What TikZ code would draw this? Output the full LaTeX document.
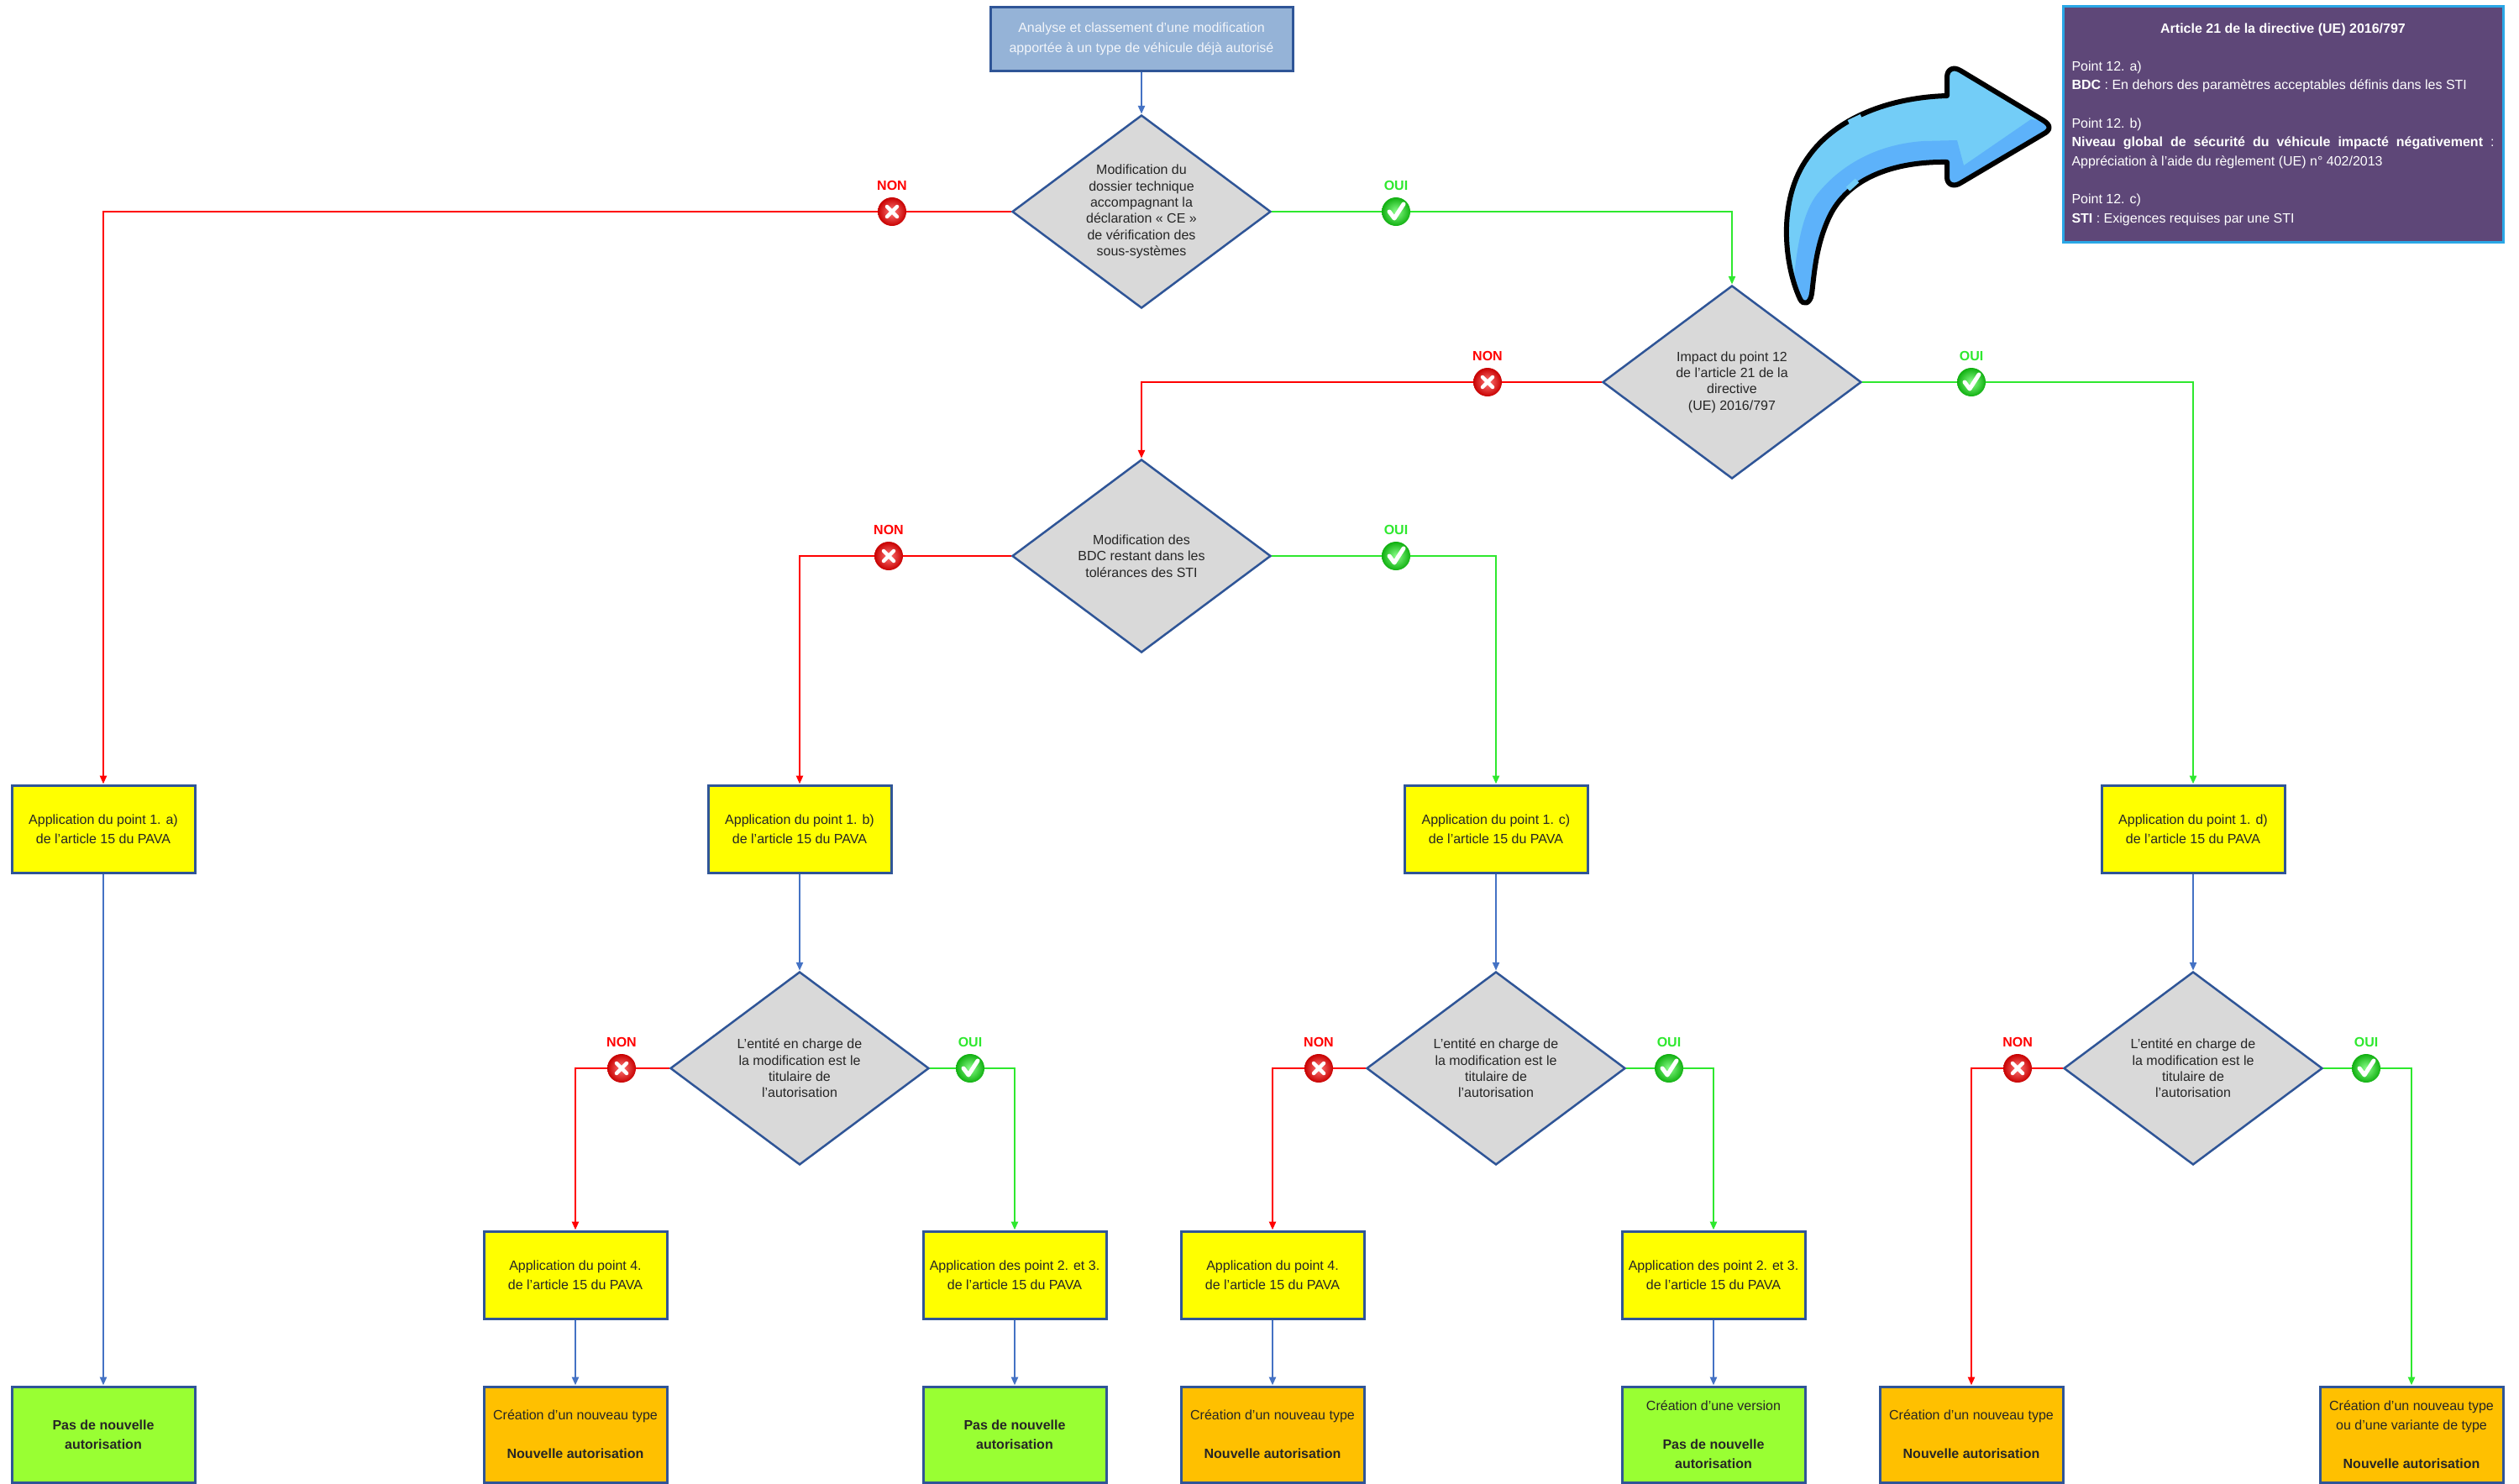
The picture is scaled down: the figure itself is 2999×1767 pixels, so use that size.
\documentclass[tikz,border=0pt]{standalone}
\usepackage{fontspec}
\setmainfont{Liberation Sans}
\usetikzlibrary{shapes.geometric,arrows.meta}

\definecolor{hdrfill}{HTML}{95B3D7}
\definecolor{hdrtext}{HTML}{F2F5FA}
\definecolor{frame}{HTML}{2F5597}
\definecolor{diafill}{HTML}{D9D9D9}
\definecolor{diatext}{HTML}{262626}
\definecolor{yell}{HTML}{FFFF00}
\definecolor{oran}{HTML}{FFC000}
\definecolor{lime}{HTML}{99FF33}
\definecolor{nonred}{HTML}{FF0000}
\definecolor{ouigreen}{HTML}{2EE82E}
\definecolor{flowblue}{HTML}{4472C4}
\definecolor{purp}{HTML}{5E4778}
\definecolor{purpframe}{HTML}{2AA7E6}
\definecolor{arrlight}{HTML}{73CDF7}
\definecolor{arrdark}{HTML}{5DB2FA}
\definecolor{nonhi}{HTML}{FF7A7A}
\definecolor{nondk}{HTML}{C80000}
\definecolor{ouihi}{HTML}{8CFF8C}
\definecolor{ouidk}{HTML}{10B010}

\tikzset{
  every node/.style={inner sep=0pt},
  hdrbox/.style={rectangle, draw=frame, line width=3pt, fill=hdrfill, text=hdrtext,
    minimum width=360pt, minimum height=76pt, align=center,
    font=\fontsize{16}{24}\selectfont},
  decision/.style={diamond, aspect=1.34, draw=frame, line width=2.5pt, fill=diafill,
    text=diatext, minimum width=308pt, minimum height=230pt, align=center,
    font=\fontsize{16}{19.4}\selectfont},
  stepbox/.style={rectangle, draw=frame, line width=3pt, minimum width=218pt,
    minimum height=104pt, align=center, text=black!85,
    font=\fontsize{16}{23}\selectfont},
  applybox/.style={stepbox, fill=yell},
  newbox/.style={stepbox, fill=oran, minimum height=114pt},
  keepbox/.style={stepbox, fill=lime, minimum height=114pt},
  infobox/.style={rectangle, draw=purpframe, line width=3pt, fill=purp, text=white,
    minimum width=524pt, minimum height=281pt, inner xsep=10.5pt, text width=503pt,
    align=justify, font=\fontsize{16}{22.6}\selectfont},
  flow/.style={draw=flowblue, line width=2.5pt, -{Triangle[length=10pt,width=8pt]}},
  nonline/.style={flow, draw=nonred},
  ouiline/.style={flow, draw=ouigreen},
  marklbl/.style={font=\bfseries\fontsize{16}{18}\selectfont},
  nonmark/.pic={
    \shade[inner color=nonhi, outer color=nondk] (0,0) circle[radius=17];
    \draw[white, line width=4.5pt, line cap=round] (-6,-6) -- (6,6) (-6,6) -- (6,-6);
    \node[marklbl, text=nonred] (-lbl) at (0,-31) {NON};
  },
  ouimark/.pic={
    \shade[inner color=ouihi, outer color=ouidk] (0,0) circle[radius=17];
    \draw[white, line width=5pt, line cap=round, line join=round] (-8,0) -- (-2,8) -- (9,-9);
    \node[marklbl, text=ouigreen] (-lbl) at (0,-31) {OUI};
  },
}

% outline of the curved pointer arrow (y axis points down)
\def\pointershape{(2143,356) .. controls (2124,315) and (2116,238) .. (2152,188)
  .. controls (2185,140) and (2250,116) .. (2318,114) -- (2318,92)
  .. controls (2318,82) and (2326,79) .. (2334,84) -- (2432,143)
  .. controls (2442,149) and (2442,155) .. (2432,160) -- (2334,218)
  .. controls (2326,223) and (2318,220) .. (2318,211) -- (2318,193)
  .. controls (2255,192) and (2200,212) .. (2178,258)
  .. controls (2162,292) and (2160,325) .. (2157,350)
  .. controls (2155,362) and (2147,364) .. (2143,356) -- cycle}

\begin{document}
\begin{tikzpicture}[x=1pt,y=-1pt]
\useasboundingbox (0,0) rectangle (2999,1767);
\fill[white] (0,0) rectangle (2999,1767);

% ---- header and decisions
\node[hdrbox] (top) at (1359,46) {Analyse et classement d’une modification\\apportée à un type de véhicule déjà autorisé};

\node[decision] (d1) at (1359,252) {Modification du\\dossier technique\\accompagnant la\\déclaration « CE »\\de vérification des\\sous-systèmes};
\node[decision] (d2) at (2062,455) {Impact du point 12\\de l’article 21 de la\\directive\\(UE) 2016/797};
\node[decision] (d3) at (1359,662) {Modification des\\BDC restant dans les\\tolérances des STI};

% ---- first row of applications
\node[applybox] (a1) at (123,987) {Application du point 1. a)\\de l’article 15 du PAVA};
\node[applybox] (b1) at (952,987) {Application du point 1. b)\\de l’article 15 du PAVA};
\node[applybox] (c1) at (1781,987) {Application du point 1. c)\\de l’article 15 du PAVA};
\node[applybox] (e1) at (2611,987) {Application du point 1. d)\\de l’article 15 du PAVA};

% ---- holder decisions
\node[decision] (d4) at (952,1272) {L’entité en charge de\\la modification est le\\titulaire de\\l’autorisation};
\node[decision] (d5) at (1781,1272) {L’entité en charge de\\la modification est le\\titulaire de\\l’autorisation};
\node[decision] (d6) at (2611,1272) {L’entité en charge de\\la modification est le\\titulaire de\\l’autorisation};

% ---- second row of applications
\node[applybox] (b4) at (685,1518) {Application du point 4.\\de l’article 15 du PAVA};
\node[applybox] (b23) at (1208,1518) {Application des point 2. et 3.\\de l’article 15 du PAVA};
\node[applybox] (c4) at (1515,1518) {Application du point 4.\\de l’article 15 du PAVA};
\node[applybox] (c23) at (2040,1518) {Application des point 2. et 3.\\de l’article 15 du PAVA};

% ---- outcomes
\node[keepbox] (ra) at (123,1708) {\bfseries Pas de nouvelle\\\bfseries autorisation};
\node[newbox] (rb4) at (685,1708) {Création d’un nouveau type\\[23pt]\textbf{Nouvelle autorisation}};
\node[keepbox] (rb23) at (1208,1708) {\bfseries Pas de nouvelle\\\bfseries autorisation};
\node[newbox] (rc4) at (1515,1708) {Création d’un nouveau type\\[23pt]\textbf{Nouvelle autorisation}};
\node[keepbox] (rc23) at (2040,1708) {Création d’une version\\[23pt]\textbf{Pas de nouvelle}\\\textbf{autorisation}};
\node[newbox] (re4) at (2347,1708) {Création d’un nouveau type\\[23pt]\textbf{Nouvelle autorisation}};
\node[newbox] (re23) at (2871,1708) {Création d’un nouveau type\\ou d’une variante de type\\[23pt]\textbf{Nouvelle autorisation}};

% ---- connectors
\draw[flow] (top.south) -- (d1.north);
\draw[nonline] (d1.west) -| (a1.north);
\draw[ouiline] (d1.east) -| (d2.north);
\draw[nonline] (d2.west) -| (d3.north);
\draw[ouiline] (d2.east) -| (e1.north);
\draw[nonline] (d3.west) -| (b1.north);
\draw[ouiline] (d3.east) -| (c1.north);

\draw[flow] (a1.south) -- (ra.north);
\draw[flow] (b1.south) -- (d4.north);
\draw[flow] (c1.south) -- (d5.north);
\draw[flow] (e1.south) -- (d6.north);

\draw[nonline] (d4.west) -| (b4.north);
\draw[ouiline] (d4.east) -| (b23.north);
\draw[nonline] (d5.west) -| (c4.north);
\draw[ouiline] (d5.east) -| (c23.north);
\draw[nonline] (d6.west) -| (re4.north);
\draw[ouiline] (d6.east) -| (re23.north);

\draw[flow] (b4.south) -- (rb4.north);
\draw[flow] (b23.south) -- (rb23.north);
\draw[flow] (c4.south) -- (rc4.north);
\draw[flow] (c23.south) -- (rc23.north);

% ---- answer markers on the branches
\pic (n1) at (1062,252) {nonmark};
\pic (o1) at (1662,252) {ouimark};
\pic (n2) at (1771,455) {nonmark};
\pic (o2) at (2347,455) {ouimark};
\pic (n3) at (1058,662) {nonmark};
\pic (o3) at (1662,662) {ouimark};
\pic (n4) at (740,1272) {nonmark};
\pic (o4) at (1155,1272) {ouimark};
\pic (n5) at (1570,1272) {nonmark};
\pic (o5) at (1987,1272) {ouimark};
\pic (n6) at (2402,1272) {nonmark};
\pic (o6) at (2817,1272) {ouimark};

% ---- curved pointer towards the article box
\fill[arrlight] \pointershape;
\begin{scope}
  \clip \pointershape;
  \fill[arrdark] (2135,340) .. controls (2140,280) and (2150,245) .. (2167,227)
    .. controls (2190,200) and (2230,172) .. (2290,168) -- (2330,167) -- (2338,197)
    -- (2418,142) -- (2470,150) -- (2400,260) -- (2200,260) -- (2175,380)
    -- (2125,380) -- cycle;
\end{scope}
\draw[black, line width=6pt, line join=round] \pointershape;
\draw[arrlight, line width=6.5pt] (2201,146) -- (2216,139);
\draw[arrlight, line width=6.5pt] (2200,225) -- (2211,215);

% ---- article box
\node[infobox] (info) at (2718,148) {%
  \centerline{\bfseries Article 21 de la directive (UE) 2016/797}\par
  \vspace{\baselineskip}
  Point 12. a)\par
  \textbf{BDC} : En dehors des paramètres acceptables définis dans les STI\par
  \vspace{\baselineskip}
  Point 12. b)\par
  \textbf{Niveau global de sécurité du véhicule impacté négativement} :\linebreak
  Appréciation à l’aide du règlement (UE) n° 402/2013\par
  \vspace{\baselineskip}
  Point 12. c)\par
  \textbf{STI} : Exigences requises par une STI};
\end{tikzpicture}
\end{document}
